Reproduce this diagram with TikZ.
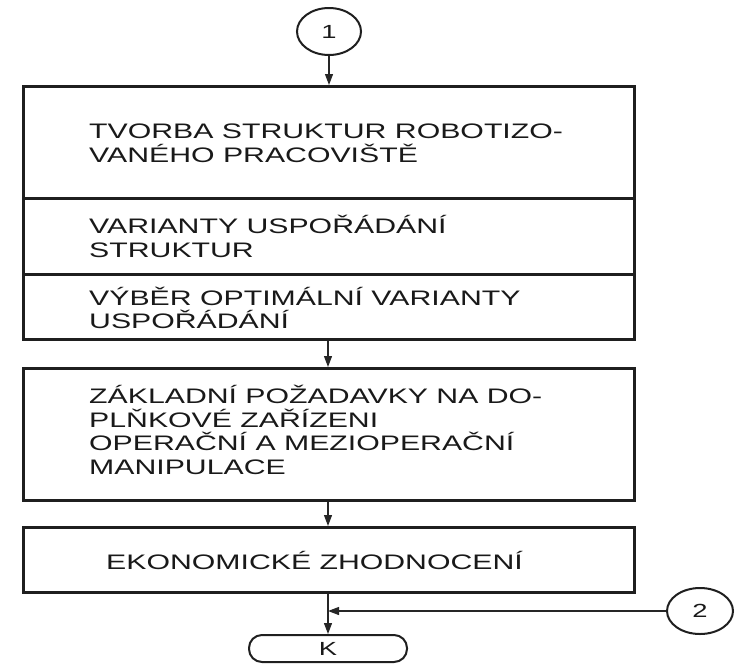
\documentclass[tikz,border=0pt]{standalone}
\usepackage{fontspec}
\setmainfont[FakeStretch=1.44]{Liberation Sans}
\usetikzlibrary{shapes.geometric,arrows.meta}
\begin{document}
\begin{tikzpicture}[x=1pt,y=-1pt,
  boxst/.style={draw=black!88, line width=2.6pt, rectangle, inner sep=0pt, anchor=north west, minimum width=611pt},
  txt/.style={anchor=base west, align=left, inner sep=0pt, font=\fontsize{21}{24}\selectfont, text=black!90},
  conn/.style={line width=1.2pt, draw=black!85, -{Triangle[length=11pt,width=8pt]}},
  ell/.style={ellipse, draw=black!88, line width=2pt, minimum width=64pt, minimum height=47pt, inner sep=0pt, font=\fontsize{19}{22}\selectfont, text=black!90}]
\useasboundingbox (0,0) rectangle (735,664);
% boxes
\node[boxst, minimum height=112pt] (s1) at (22,85) {};
\node[boxst, minimum height=76pt] (s2) at (22,197) {};
\node[boxst, minimum height=65pt] (s3) at (22,273) {};
\node[boxst, minimum height=132pt] (b2) at (22,367) {};
\node[boxst, minimum height=65pt] (b3) at (22,526) {};
% texts (anchor = baseline of last line)
\node[txt] (t1) at (89,162) {TVORBA STRUKTUR ROBOTIZO-\\VANÉHO PRACOVIŠTĚ};
\node[txt] (t2) at (89,257) {VARIANTY USPOŘÁDÁNÍ\\STRUKTUR};
\node[txt, font=\fontsize{21}{23}\selectfont] (t3) at (89,328) {VÝBĚR OPTIMÁLNÍ VARIANTY\\USPOŘÁDÁNÍ};
\node[txt, font=\fontsize{21}{23.4}\selectfont] (t4) at (89,474) {ZÁKLADNÍ POŽADAVKY NA DO-\\PLŇKOVÉ ZAŘÍZENI\\OPERAČNÍ A MEZIOPERAČNÍ\\MANIPULACE};
\node[txt] (t5) at (106,569) {EKONOMICKÉ ZHODNOCENÍ};
% terminal nodes
\node[ell] (c1) at (329,31.5) {1};
\node[ell, minimum width=66pt, minimum height=46pt] (c2) at (700,611) {2};
\node[draw=black!88, line width=2pt, rounded corners=13pt, minimum width=158pt, minimum height=27pt, inner sep=0pt, font=\fontsize{19}{22}\selectfont, text=black!90] (k) at (328,648.5) {K};
\coordinate (ax) at (328,0);
\coordinate (j) at (328,611);
% connectors
\draw[conn] (c1.south) -- (c1.south |- s1.north);
\draw[conn] (s3.south -| ax) -- (b2.north -| ax);
\draw[conn] (b2.south -| ax) -- (b3.north -| ax);
\draw[conn] (b3.south -| ax) -- (k.north);
\draw[conn] (c2.west) -- (j);
\end{tikzpicture}
\end{document}
